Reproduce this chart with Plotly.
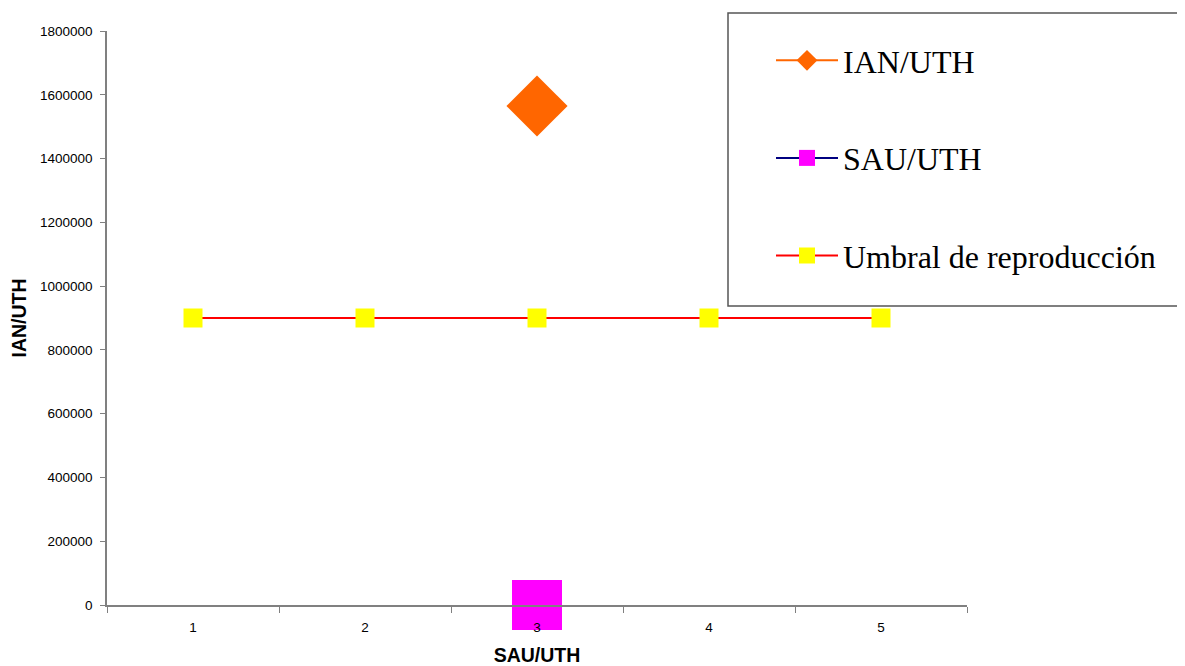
import plotly.graph_objects as go

categories = ["1", "2", "3", "4", "5"]
ian_uth = [None, None, 1565000, None, None]
sau_uth = [None, None, 0, None, None]
umbral = [900000, 900000, 900000, 900000, 900000]
y_ticks = [0, 200000, 400000, 600000, 800000, 1000000, 1200000, 1400000, 1600000, 1800000]

W, H = 1177, 658
L, R, T, B = 99, 218, 23, 61
PW, PH = W - L - R, H - T - B


def px(x):
    return (x - L) / PW


def py(y):
    return (H - B - y) / PH


fig = go.Figure()
fig.add_trace(go.Scatter(
    x=categories, y=umbral, name="Umbral de reproducción", mode="lines+markers",
    line=dict(color="#FF0000", width=2),
    marker=dict(symbol="square", size=19, color="#FFFF00"),
    legendgroup="c", legendrank=3, cliponaxis=False))
fig.add_trace(go.Scatter(
    x=categories, y=ian_uth, name="IAN/UTH", mode="lines+markers",
    line=dict(color="#FF6600", width=2),
    marker=dict(symbol="diamond", size=47, color="#FF6600"),
    legendgroup="a", legendrank=1, cliponaxis=False))
fig.add_trace(go.Scatter(
    x=categories, y=sau_uth, name="SAU/UTH", mode="lines+markers",
    line=dict(color="#000080", width=2),
    marker=dict(symbol="square", size=50, color="#FF00FF"),
    legendgroup="b", legendrank=2, cliponaxis=False))

fig.update_layout(
    width=W, height=H,
    margin=dict(l=L, r=R, t=T, b=B, autoexpand=False),
    paper_bgcolor="white", plot_bgcolor="white",
    showlegend=True,
    legend=dict(
        x=px(763), y=py(25), xanchor="left", yanchor="top",
        font=dict(family="Liberation Serif", size=32, color="black"),
        bgcolor="rgba(0,0,0,0)", borderwidth=0,
        traceorder="grouped", tracegroupgap=53, itemwidth=62,
    ),
    shapes=[dict(type="rect", xref="paper", yref="paper",
                 x0=px(720), x1=px(1190),
                 y0=py(298), y1=py(5),
                 line=dict(color="#555555", width=1.5), fillcolor="white", layer="below")],
    font=dict(family="Liberation Sans", color="black"),
)
fig.update_xaxes(
    type="category", range=[-0.5, 4.5], tickson="boundaries", ticks="outside", ticklen=6,
    tickcolor="#808080", showline=True, linecolor="#808080", linewidth=2,
    showgrid=False, zeroline=False, tickfont=dict(size=13.5), ticklabelstandoff=9,
    title=dict(text="<b>SAU/UTH</b>", font=dict(size=19.5), standoff=18),
)
fig.update_yaxes(
    range=[0, 1800000], tickvals=y_ticks, ticktext=[str(v) for v in y_ticks],
    ticks="outside", ticklen=5, tickcolor="#808080",
    showline=True, linecolor="#808080", linewidth=1.5,
    showgrid=False, zeroline=False, tickfont=dict(size=13.5), ticklabelstandoff=5,
    title=dict(text="<b>IAN/UTH</b>", font=dict(size=19.5), standoff=14),
)
fig.write_html("out.html")
